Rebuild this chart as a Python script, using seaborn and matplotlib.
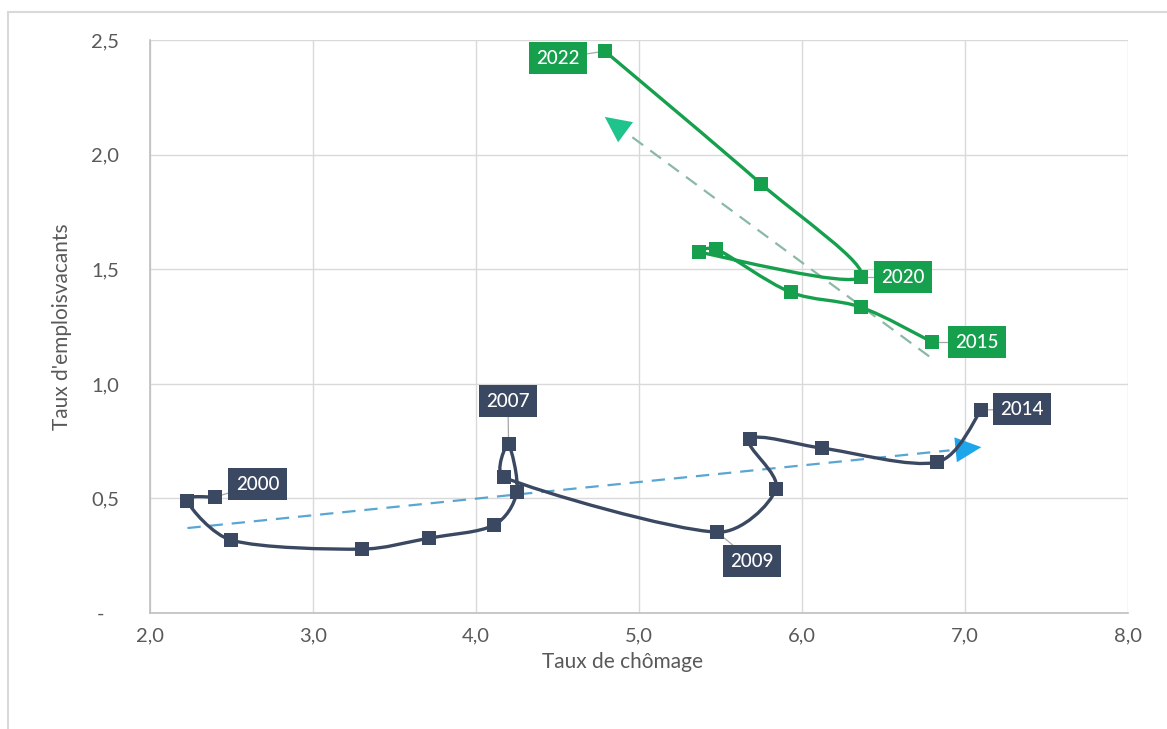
import numpy as np
import pandas as pd
import seaborn as sns
import matplotlib.pyplot as plt
from matplotlib.path import Path
from matplotlib.patches import PathPatch

# data
years_a = [2000, 2001, 2002, 2003, 2004, 2005, 2006, 2007, 2008, 2009, 2010, 2011, 2012, 2013, 2014]
chom_a = [2.40, 2.23, 2.50, 3.30, 3.71, 4.11, 4.25, 4.20, 4.17, 5.48, 5.84, 5.68, 6.12, 6.83, 7.10]
vac_a = [0.506, 0.489, 0.318, 0.279, 0.327, 0.384, 0.528, 0.737, 0.593, 0.353, 0.541, 0.759, 0.720, 0.659, 0.886]

years_b = [2015, 2016, 2017, 2018, 2019, 2020, 2021, 2022]
chom_b = [6.80, 6.36, 5.93, 5.47, 5.37, 6.36, 5.75, 4.79]
vac_b = [1.182, 1.335, 1.400, 1.590, 1.575, 1.466, 1.872, 2.452]

# trend arrows (start, tip)
trend_a = [(2.23, 0.371), (7.10, 0.724)]
trend_b = [(6.78, 1.12), (4.79, 2.165)]

# year labels: year -> label centre
labels_a = {2000: (2.66, 0.563), 2007: (4.196, 0.925), 2009: (5.693, 0.227), 2014: (7.35, 0.89)}
labels_b = {2015: (7.074, 1.182), 2020: (6.62, 1.466), 2022: (4.503, 2.42)}

xticks = [2, 3, 4, 5, 6, 7, 8]
yticks = [0, 0.5, 1.0, 1.5, 2.0, 2.5]

navy = "#3b4862"
green = "#16a04e"
grey_txt = "#595959"

sns.set_theme(style="whitegrid")
plt.rcParams['font.family'] = ['Lato', 'DejaVu Sans']

fig = plt.figure(figsize=(11.67, 7.29), dpi=100)
ax = fig.add_axes([0.1285, 0.159, 0.8381, 0.786])
ax.set_xlim(2, 8)
ax.set_ylim(0, 2.5)

# pixels per data unit, so the smoothing is done in screen space
sx, sy = 163.0, 229.2


def clamp(v, lim):
    ln = np.hypot(*v)
    return v * (lim / ln) if ln > lim else v


def smooth_path(xs, ys):
    # excel-like smoothed line: catmull-rom bezier, handles kept short on short segments
    p = np.column_stack([np.array(xs) * sx, np.array(ys) * sy])
    n = len(p)
    m = [(p[min(i + 1, n - 1)] - p[max(i - 1, 0)]) / 6.0 for i in range(n)]
    verts = [p[0]]
    codes = [Path.MOVETO]
    for i in range(n - 1):
        p1, p2 = p[i], p[i + 1]
        seg = np.hypot(*(p2 - p1))
        c1 = p1 + clamp(m[i], seg * 0.33)
        c2 = p2 - clamp(m[i + 1], seg * 0.33)
        verts += [c1, c2, p2]
        codes += [Path.CURVE4] * 3
    verts = np.array(verts) / [sx, sy]
    return Path(verts, codes)


def draw_series(xs, ys, color):
    ax.add_patch(PathPatch(smooth_path(xs, ys), fc="none", ec=color, lw=2.4, zorder=3, capstyle="round"))
    df = pd.DataFrame({"x": xs, "y": ys})
    sns.scatterplot(data=df, x="x", y="y", ax=ax, marker="s", s=100, color=color,
                    edgecolor=color, linewidth=0, zorder=4)


def draw_trend(tr, line_color, head_color):
    (x0, y0), (x1, y1) = tr
    ax.plot([x0, x0 + (x1 - x0) * 0.96], [y0, y0 + (y1 - y0) * 0.96], ls=(0, (6, 4)),
            color=line_color, lw=1.6, zorder=2)
    ax.annotate("", xy=(x1, y1), xytext=(x0 + (x1 - x0) * 0.94, y0 + (y1 - y0) * 0.94),
                arrowprops=dict(arrowstyle="-|>,head_length=1.55,head_width=0.75",
                                color=head_color, lw=0, shrinkA=0, shrinkB=0), zorder=2)


draw_trend(trend_a, "#5aa6d2", "#1ea6ea")
draw_trend(trend_b, "#8ab9a4", "#1fc48c")
draw_series(chom_a, vac_a, navy)
draw_series(chom_b, vac_b, green)


def draw_labels(labels, years, xs, ys, color):
    for yr, (lx, ly) in labels.items():
        i = years.index(yr)
        ax.plot([xs[i], lx], [ys[i], ly], color="#a6a6a6", lw=0.9, zorder=1)
        ax.text(lx, ly, str(yr), ha="center", va="center", color="white", fontsize=13.5,
                fontweight="medium", zorder=5,
                bbox=dict(boxstyle="square,pad=0.4", fc=color, ec="none"))


draw_labels(labels_a, years_a, chom_a, vac_a, navy)
draw_labels(labels_b, years_b, chom_b, vac_b, green)

ax.set_xticks(xticks)
ax.set_yticks(yticks)
ax.set_xticklabels([f"{v:.1f}".replace(".", ",") for v in xticks])
ax.set_yticklabels(["-   "] + [f"{v:.1f}".replace(".", ",") for v in yticks[1:]])
ax.tick_params(axis="both", colors=grey_txt, labelsize=14.5, length=6, width=0.8, direction="out",
               color="#bfbfbf")
ax.tick_params(axis="y", pad=16)
ax.tick_params(axis="x", pad=4)
ax.grid(True, color="#d9d9d9", lw=1)
for side in ["top", "right"]:
    ax.spines[side].set_visible(False)
for side in ["left", "bottom"]:
    ax.spines[side].set_color("#bfbfbf")
    ax.spines[side].set_linewidth(1.2)
ax.set_xlabel("Taux de chômage", fontsize=15, color=grey_txt, labelpad=6)
ax.xaxis.label.set_x(0.483)
ax.set_ylabel("Taux d'emploisvacants", fontsize=15, color=grey_txt, labelpad=14)

# chart frame (cropped at right and bottom)
fig.add_artist(plt.Line2D([8 / 1167, 8 / 1167], [0, 1 - 12 / 729], color="#d9d9d9", lw=1.5))
fig.add_artist(plt.Line2D([8 / 1167, 1], [1 - 12 / 729, 1 - 12 / 729], color="#d9d9d9", lw=1.5))

fig.savefig("out.png", dpi=100, facecolor="white")
